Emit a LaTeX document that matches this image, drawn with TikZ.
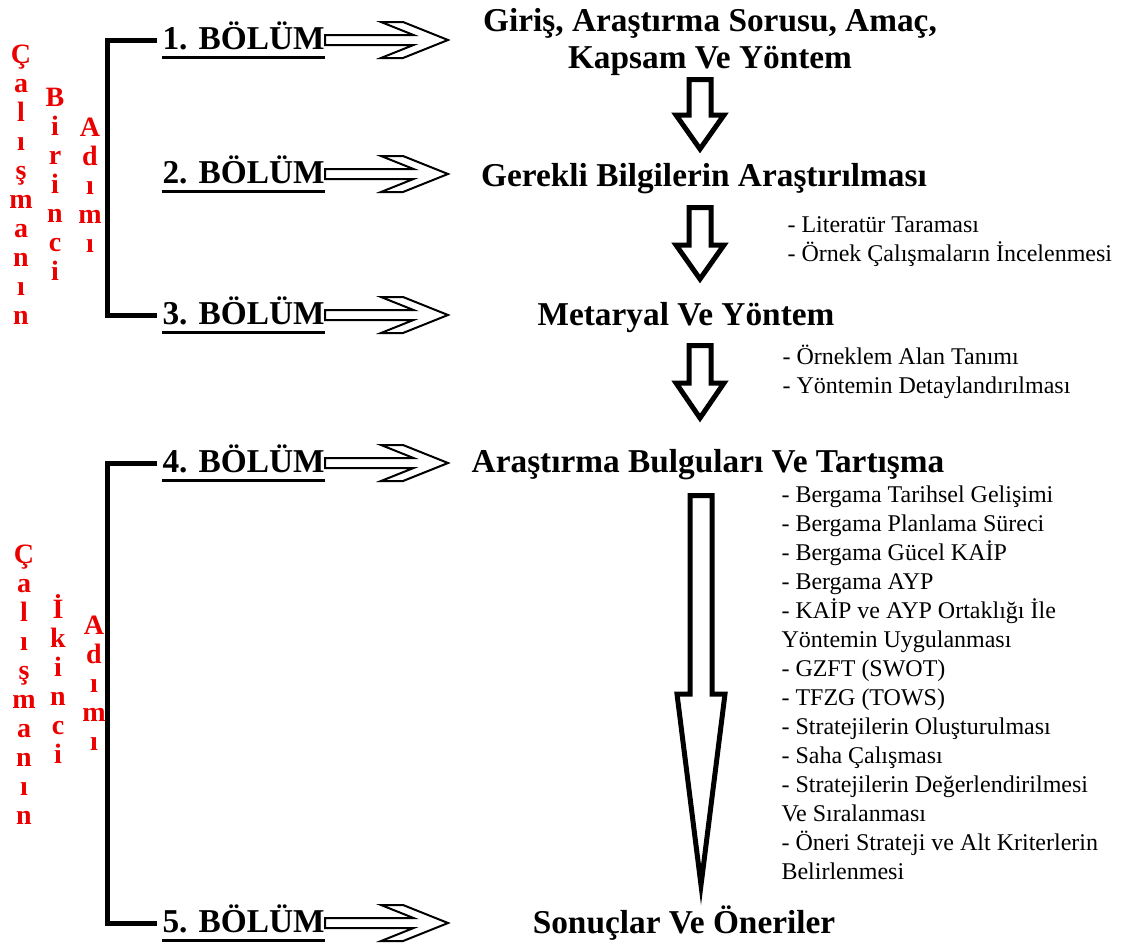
\documentclass[tikz,border=0pt]{standalone}
\usepackage{fontspec}
\setmainfont{Liberation Serif}

\tikzset{every picture/.style={line width=0.75pt}}
\tikzset{
  bolum/.style={anchor=base west, inner sep=0pt, font=\fontsize{25}{30}\selectfont\bfseries},
  title/.style={inner sep=0pt, font=\fontsize{25}{27.75}\selectfont\bfseries, align=center},
  items/.style={anchor=north west, inner sep=0pt, font=\fontsize{18}{21.75}\selectfont, align=left},
  redcol/.style={anchor=north, inner sep=0pt, text=red!92!black, font=\fontsize{21}{21.75}\selectfont\bfseries, align=center},
  bracket/.style={line width=3.75pt},
  uline/.style={line width=2.25pt},
  chevron/.style={line width=1.5pt, line join=miter},
  blockarrow/.style={line width=3.75pt, line join=miter},
}
% hollow double arrow after a BOLUM label
\newcommand{\bolumarrow}[1]{%
  \draw[chevron] (#1.base east) ++(0,-14) -- ++(88.5,0) -- ++(-32.5,-13) -- ++(22,0) -- ++(45,18)
    -- ++(-45,18) -- ++(-22,0) -- ++(32.5,-13) -- ++(-88.5,0) -- cycle;}
% thick outlined down arrow: x, top, shoulder, tip
\newcommand{\downblock}[4]{%
  \draw[blockarrow] (#1-11,#2) -- (#1+11,#2) -- (#1+11,#3) -- (#1+24,#3) -- (#1,#4) -- (#1-24,#3) -- (#1-11,#3) -- cycle;}

\begin{document}
\begin{tikzpicture}[x=0.75pt,y=0.75pt,yscale=-1,xscale=1]
    \useasboundingbox (0,0) rectangle (1125,946);

    % Text Node
    \draw (162,49) node [bolum] (b1) {1. BÖLÜM};
    % Text Node
    \draw (162,183) node [bolum] (b2) {2. BÖLÜM};
    % Text Node
    \draw (162,324) node [bolum] (b3) {3. BÖLÜM};
    % Text Node
    \draw (162,472) node [bolum] (b4) {4. BÖLÜM};
    % Text Node
    \draw (162,932) node [bolum] (b5) {5. BÖLÜM};

    %Straight Lines
    \draw[uline] (b1.base west) ++(0,8) coordinate (u1) -- (u1 -| b1.east);
    \draw[uline] (b2.base west) ++(0,8) coordinate (u2) -- (u2 -| b2.east);
    \draw[uline] (b3.base west) ++(0,8) coordinate (u3) -- (u3 -| b3.east);
    \draw[uline] (b4.base west) ++(0,8) coordinate (u4) -- (u4 -| b4.east);
    \draw[uline] (b5.base west) ++(0,8) coordinate (u5) -- (u5 -| b5.east);

    %Shape: Right Arrow
    \bolumarrow{b1}
    \bolumarrow{b2}
    \bolumarrow{b3}
    \bolumarrow{b4}
    \bolumarrow{b5}

    %Straight Lines
    \path (b1.base west) ++(-5,-9) coordinate (k1);
    \path (b3.base west) ++(-5,-9) coordinate (k3);
    \draw[bracket] (k1) -- ++(-50,0) |- (k3);
    \path (b4.base west) ++(-5,-9) coordinate (k4);
    \path (b5.base west) ++(-5,-9) coordinate (k5);
    \draw[bracket] (k4) -- ++(-50,0) |- (k5);

    % Text Node
    \draw (21,44) node [redcol] (c1) {Ç\\a\\l\\ı\\ş\\m\\a\\n\\ı\\n};
    % Text Node
    \draw (55,88) node [redcol] (c2) {B\\i\\r\\i\\n\\c\\i};
    % Text Node
    \draw (90,118) node [redcol] (c3) {A\\d\\ı\\m\\ı};
    % Text Node
    \draw (24,544) node [redcol] (c4) {Ç\\a\\l\\ı\\ş\\m\\a\\n\\ı\\n};
    % Text Node
    \draw (58,594) node [redcol] (c5) {İ\\k\\i\\n\\c\\i};
    % Text Node
    \draw (94,616) node [redcol] (c6) {A\\d\\ı\\m\\ı};

    % Text Node
    \draw (710,8) node [title, anchor=north] (t1) {Giriş, Araştırma Sorusu, Amaç,\\Kapsam Ve Yöntem};
    % Text Node
    \draw (704,186) node [title, anchor=base] (t2) {Gerekli Bilgilerin Araştırılması};
    % Text Node
    \draw (686,325) node [title, anchor=base] (t3) {Metaryal Ve Yöntem};
    % Text Node
    \draw (708,472) node [title, anchor=base] (t4) {Araştırma Bulguları Ve Tartışma};
    % Text Node
    \draw (684,933) node [title, anchor=base] (t5) {Sonuçlar Ve Öneriler};

    %Shape: Down Arrow
    \downblock{700}{79.5}{115}{149}
    \downblock{700}{207.5}{245}{279}
    \downblock{700}{345.5}{383}{418}
    \downblock{701}{495.5}{694}{885}

    % Text Node
    \draw (787,216.6) node [items] (l2) {- Literatür Taraması\\- Örnek Çalışmaların İncelenmesi};
    % Text Node
    \draw (782,345) node [items] (l3) {- Örneklem Alan Tanımı\\- Yöntemin Detaylandırılması};
    % Text Node
    \draw (781,485.6) node [items] (l4) {- Bergama Tarihsel Gelişimi\\- Bergama Planlama Süreci\\- Bergama Gücel KAİP\\- Bergama AYP\\- KAİP ve AYP Ortaklığı İle\\Yöntemin Uygulanması\\- GZFT (SWOT)\\- TFZG (TOWS)\\- Stratejilerin Oluşturulması\\- Saha Çalışması\\- Stratejilerin Değerlendirilmesi\\Ve Sıralanması\\- Öneri Strateji ve Alt Kriterlerin\\Belirlenmesi};

\end{tikzpicture}
\end{document}
